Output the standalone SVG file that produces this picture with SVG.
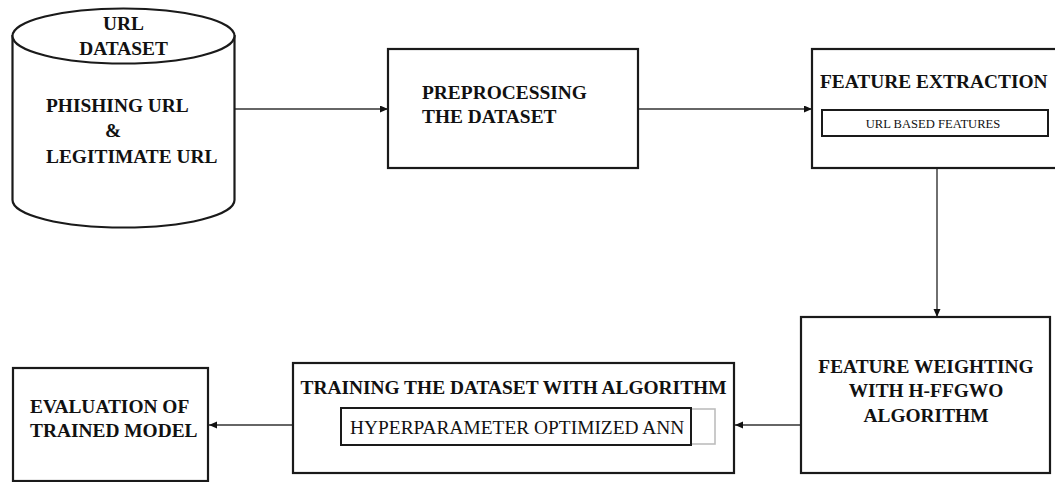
<svg xmlns="http://www.w3.org/2000/svg" width="1055" height="482" viewBox="0 0 1055 482">
<defs>
<style>
.box{fill:#fff;stroke:#1a1a1a;stroke-width:2.2}
.inner{fill:#fff;stroke:#1a1a1a;stroke-width:2}
.conn{fill:none;stroke:#333;stroke-width:1.4}
.b{font-family:"Liberation Serif","Times New Roman",serif;font-weight:bold;font-size:19.4px;fill:#111}
.r{font-family:"Liberation Serif","Times New Roman",serif;font-size:19.4px;fill:#111}
.s{font-family:"Liberation Serif","Times New Roman",serif;font-size:12.6px;fill:#111}
</style>
<marker id="arr" markerUnits="userSpaceOnUse" markerWidth="9" markerHeight="8" refX="8" refY="3.5" orient="auto">
<path d="M0,0 L8,3.5 L0,7 z" fill="#111"/>
</marker>
</defs>
<rect width="1055" height="482" fill="#fff"/>
<g id="connectors">
<line class="conn" x1="235" y1="109" x2="388" y2="109" marker-end="url(#arr)"/>
<line class="conn" x1="638" y1="109" x2="812" y2="109" marker-end="url(#arr)"/>
<line class="conn" x1="937" y1="168" x2="937" y2="317" marker-end="url(#arr)"/>
<line class="conn" x1="801" y1="425" x2="735" y2="425" marker-end="url(#arr)"/>
<line class="conn" x1="293" y1="425" x2="209" y2="425" marker-end="url(#arr)"/>
</g>
<g id="url-dataset">
<path class="box" d="M12.5,36 L12.5,200 A111,27.5 0 0 0 234.5,200 L234.5,36 Z"/>
<ellipse class="box" cx="123.5" cy="36" rx="111" ry="27.5"/>
<text class="b" x="123.5" y="30" text-anchor="middle">URL</text>
<text class="b" x="123.5" y="55" text-anchor="middle">DATASET</text>
<text class="b" x="46" y="112">PHISHING URL</text>
<text class="b" x="105" y="137">&amp;</text>
<text class="b" x="46" y="163">LEGITIMATE URL</text>
</g>
<g id="preprocessing">
<rect class="box" x="388" y="49" width="250" height="119"/>
<text class="b" x="422" y="99">PREPROCESSING</text>
<text class="b" x="422" y="123">THE DATASET</text>
</g>
<g id="feature-extraction">
<rect class="box" x="812" y="49" width="250" height="119"/>
<text class="b" x="820" y="88">FEATURE EXTRACTION</text>
<rect class="inner" x="822" y="110" width="226" height="26"/>
<text class="s" x="933" y="128" text-anchor="middle">URL BASED FEATURES</text>
</g>
<g id="feature-weighting">
<rect class="box" x="801" y="317" width="249" height="156"/>
<text class="b" x="926" y="373" text-anchor="middle">FEATURE WEIGHTING</text>
<text class="b" x="926" y="397" text-anchor="middle">WITH H-FFGWO</text>
<text class="b" x="926" y="422" text-anchor="middle">ALGORITHM</text>
</g>
<g id="training">
<rect class="box" x="293" y="363" width="441" height="110"/>
<text class="b" x="513.5" y="394" text-anchor="middle">TRAINING THE DATASET WITH ALGORITHM</text>
<rect x="341" y="409" width="374" height="35" fill="#fff" stroke="#bdbdbd" stroke-width="1.6"/>
<rect class="inner" x="341" y="408" width="350" height="37" fill="none"/>
<text class="r" x="350" y="434">HYPERPARAMETER OPTIMIZED ANN</text>
</g>
<g id="evaluation">
<rect class="box" x="13" y="368" width="195" height="113"/>
<text class="b" x="30" y="413">EVALUATION OF</text>
<text class="b" x="30" y="437">TRAINED MODEL</text>
</g>
</svg>
